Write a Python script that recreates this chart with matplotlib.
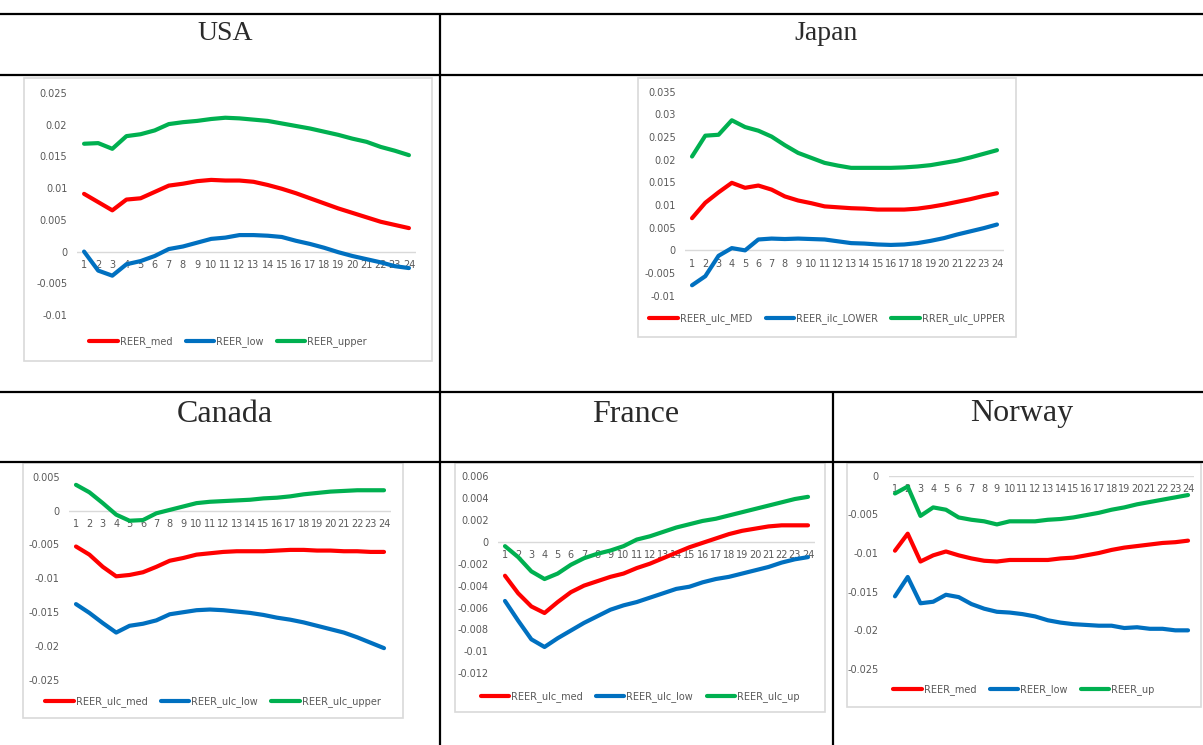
import numpy as np
import matplotlib.pyplot as plt
from matplotlib.patches import Rectangle
from matplotlib.ticker import FuncFormatter, MultipleLocator

plt.rcParams.update({
    "font.family": ["DejaVu Sans"],
    "font.size": 7,
    "axes.unicode_minus": False,
})

W, H = 1203, 745
periods = np.arange(1, 25)

# impulse responses, 24 periods each
usa_med = [0.0091, 0.0078, 0.0065, 0.0082, 0.0084, 0.0094, 0.0104, 0.0107, 0.0111, 0.0113, 0.0112, 0.0112,
           0.0110, 0.0105, 0.0099, 0.0092, 0.0084, 0.0076, 0.0068, 0.0061, 0.0054, 0.0047, 0.0042, 0.0037]
usa_low = [0.0000, -0.0030, -0.0038, -0.0020, -0.0015, -0.0007, 0.0004, 0.0008, 0.0014, 0.0020, 0.0022, 0.0026,
           0.0026, 0.0025, 0.0023, 0.0017, 0.0012, 0.0006, -0.0001, -0.0007, -0.0012, -0.0017, -0.0023, -0.0026]
usa_upper = [0.0170, 0.0171, 0.0162, 0.0182, 0.0185, 0.0191, 0.0201, 0.0204, 0.0206, 0.0209, 0.0211, 0.0210,
             0.0208, 0.0206, 0.0202, 0.0198, 0.0194, 0.0189, 0.0184, 0.0178, 0.0173, 0.0165, 0.0159, 0.0152]

japan_med = [0.0071, 0.0105, 0.0128, 0.0149, 0.0138, 0.0143, 0.0134, 0.0119, 0.0110, 0.0104, 0.0097, 0.0095,
             0.0093, 0.0092, 0.0090, 0.0090, 0.0090, 0.0092, 0.0096, 0.0101, 0.0107, 0.0113, 0.0120, 0.0126]
japan_low = [-0.0077, -0.0057, -0.0012, 0.0005, 0.0000, 0.0024, 0.0026, 0.0025, 0.0026, 0.0025, 0.0024, 0.0020,
             0.0016, 0.0015, 0.0013, 0.0012, 0.0013, 0.0016, 0.0021, 0.0027, 0.0035, 0.0042, 0.0049, 0.0057]
japan_upper = [0.0207, 0.0253, 0.0255, 0.0287, 0.0272, 0.0264, 0.0251, 0.0232, 0.0215, 0.0204, 0.0193, 0.0187,
               0.0182, 0.0182, 0.0182, 0.0182, 0.0183, 0.0185, 0.0188, 0.0193, 0.0198, 0.0205, 0.0213, 0.0221]

canada_med = [-0.0053, -0.0065, -0.0083, -0.0097, -0.0095, -0.0091, -0.0083, -0.0074, -0.0070, -0.0065, -0.0063, -0.0061,
              -0.0060, -0.0060, -0.0060, -0.0059, -0.0058, -0.0058, -0.0059, -0.0059, -0.0060, -0.0060, -0.0061, -0.0061]
canada_low = [-0.0138, -0.0151, -0.0166, -0.0180, -0.0170, -0.0167, -0.0162, -0.0153, -0.0150, -0.0147, -0.0146, -0.0147,
              -0.0149, -0.0151, -0.0154, -0.0158, -0.0161, -0.0165, -0.0170, -0.0175, -0.0180, -0.0187, -0.0195, -0.0203]
canada_upper = [0.0038, 0.0027, 0.0011, -0.0006, -0.0015, -0.0014, -0.0004, 0.0001, 0.0006, 0.0011, 0.0013, 0.0014,
                0.0015, 0.0016, 0.0018, 0.0019, 0.0021, 0.0024, 0.0026, 0.0028, 0.0029, 0.0030, 0.0030, 0.0030]

france_med = [-0.0031, -0.0047, -0.0059, -0.0065, -0.0055, -0.0046, -0.0040, -0.0036, -0.0032, -0.0029, -0.0024, -0.0020,
              -0.0015, -0.0010, -0.0005, -0.0001, 0.0003, 0.0007, 0.0010, 0.0012, 0.0014, 0.0015, 0.0015, 0.0015]
france_low = [-0.0054, -0.0072, -0.0089, -0.0096, -0.0088, -0.0081, -0.0074, -0.0068, -0.0062, -0.0058, -0.0055, -0.0051,
              -0.0047, -0.0043, -0.0041, -0.0037, -0.0034, -0.0032, -0.0029, -0.0026, -0.0023, -0.0019, -0.0016, -0.0014]
france_up = [-0.0004, -0.0014, -0.0027, -0.0034, -0.0029, -0.0021, -0.0015, -0.0011, -0.0008, -0.0004, 0.0002, 0.0005,
             0.0009, 0.0013, 0.0016, 0.0019, 0.0021, 0.0024, 0.0027, 0.0030, 0.0033, 0.0036, 0.0039, 0.0041]

norway_med = [-0.0097, -0.0075, -0.0111, -0.0103, -0.0098, -0.0103, -0.0107, -0.0110, -0.0111, -0.0109, -0.0109, -0.0109,
              -0.0109, -0.0107, -0.0106, -0.0103, -0.0100, -0.0096, -0.0093, -0.0091, -0.0089, -0.0087, -0.0086, -0.0084]
norway_low = [-0.0156, -0.0131, -0.0165, -0.0163, -0.0154, -0.0157, -0.0166, -0.0172, -0.0176, -0.0177, -0.0179, -0.0182,
              -0.0187, -0.0190, -0.0192, -0.0193, -0.0194, -0.0194, -0.0197, -0.0196, -0.0198, -0.0198, -0.0200, -0.0200]
norway_up = [-0.0023, -0.0014, -0.0052, -0.0041, -0.0044, -0.0054, -0.0057, -0.0059, -0.0063, -0.0059, -0.0059, -0.0059,
             -0.0057, -0.0056, -0.0054, -0.0051, -0.0048, -0.0044, -0.0041, -0.0037, -0.0034, -0.0031, -0.0028, -0.0025]

RED, BLUE, GREEN = "#FF0000", "#0070C0", "#00B050"


def px_axes(fig, left, top, right, bottom):
    return fig.add_axes([left / W, 1 - bottom / H, (right - left) / W, (bottom - top) / H])


def fmt_y(v, _):
    if abs(v) < 1e-12:
        return "0"
    return f"{round(v, 6):g}"


def irf_chart(fig, box, area, ylim, ystep, series, labels, legend_y):
    # chart frame like an embedded spreadsheet chart
    bg.add_patch(Rectangle((box[0], box[1]), box[2] - box[0], box[3] - box[1],
                           facecolor="white", edgecolor="#d9d9d9", lw=1.2, zorder=2))
    ax = px_axes(fig, *area)
    ax.set_zorder(3)
    ax.patch.set_alpha(0)
    ax.axhline(0, color="#d9d9d9", lw=1.0, zorder=1)
    for values, color, label in zip(series, [RED, BLUE, GREEN], labels):
        ax.plot(periods, values, color=color, lw=3.0, label=label, solid_capstyle="round", zorder=3)
    ax.set_xlim(0.5, 24.5)
    ax.set_ylim(*ylim)
    ax.yaxis.set_major_locator(MultipleLocator(ystep))
    ax.yaxis.set_major_formatter(FuncFormatter(fmt_y))
    ax.set_xticks(periods)
    ax.set_xticklabels([str(p) for p in periods])
    ax.spines["bottom"].set_position(("data", 0))
    for side in ["top", "right", "left", "bottom"]:
        ax.spines[side].set_visible(False)
    ax.tick_params(axis="both", length=0, colors="#595959", labelsize=7)
    ax.tick_params(axis="y", pad=7)
    ax.tick_params(axis="x", pad=6)
    ax.legend(loc="center", bbox_to_anchor=((box[0] + box[2]) / 2 / W, 1 - legend_y / H),
              bbox_transform=fig.transFigure, ncol=3, frameon=False, fontsize=7,
              handlelength=2.9, handletextpad=0.2, columnspacing=1.4, labelcolor="#595959")
    return ax


fig = plt.figure(figsize=(W / 100, H / 100), dpi=100)
bg = fig.add_axes([0, 0, 1, 1])
bg.set_xlim(0, W)
bg.set_ylim(H, 0)
bg.axis("off")

# table rules
rule = dict(color="black", lw=1.6, zorder=5, solid_capstyle="butt")
for y in [14, 75, 392, 462]:
    bg.plot([0, W], [y, y], **rule)
bg.plot([440, 440], [14, H], **rule)
bg.plot([833, 833], [392, H], **rule)

head = dict(family=["Liberation Serif", "DejaVu Serif"], ha="center", va="center", color="#2a2a2a")
bg.text(225, 34, "USA", fontsize=20, **head)
bg.text(826, 34, "Japan", fontsize=20, **head)
bg.text(225, 414, "Canada", fontsize=23, **head)
bg.text(636, 414, "France", fontsize=23, **head)
bg.text(1022, 414, "Norway", fontsize=23, **head)

irf_chart(fig, (24, 78, 432, 361), (77, 93, 416, 315), (-0.01, 0.025), 0.005,
          [usa_med, usa_low, usa_upper], ["REER_med", "REER_low", "REER_upper"], 342)
irf_chart(fig, (638, 78, 1016, 337), (685.4, 91.7, 1003.6, 295.7), (-0.01, 0.035), 0.005,
          [japan_med, japan_low, japan_upper], ["REER_ulc_MED", "REER_ilc_LOWER", "RRER_ulc_UPPER"], 319)
irf_chart(fig, (23, 463, 403, 718), (69.3, 476.7, 390.7, 680), (-0.025, 0.005), 0.005,
          [canada_med, canada_low, canada_upper], ["REER_ulc_med", "REER_ulc_low", "REER_ulc_upper"], 702)
irf_chart(fig, (455, 463, 825, 712), (498.4, 476, 814.6, 673.3), (-0.012, 0.006), 0.002,
          [france_med, france_low, france_up], ["REER_ulc_med", "REER_ulc_low", "REER_ulc_up"], 697)
irf_chart(fig, (847, 463, 1201, 707), (888.6, 475.7, 1194.4, 669), (-0.025, 0.0), 0.005,
          [norway_med, norway_low, norway_up], ["REER_med", "REER_low", "REER_up"], 690)

fig.savefig("out.png", dpi=100)
